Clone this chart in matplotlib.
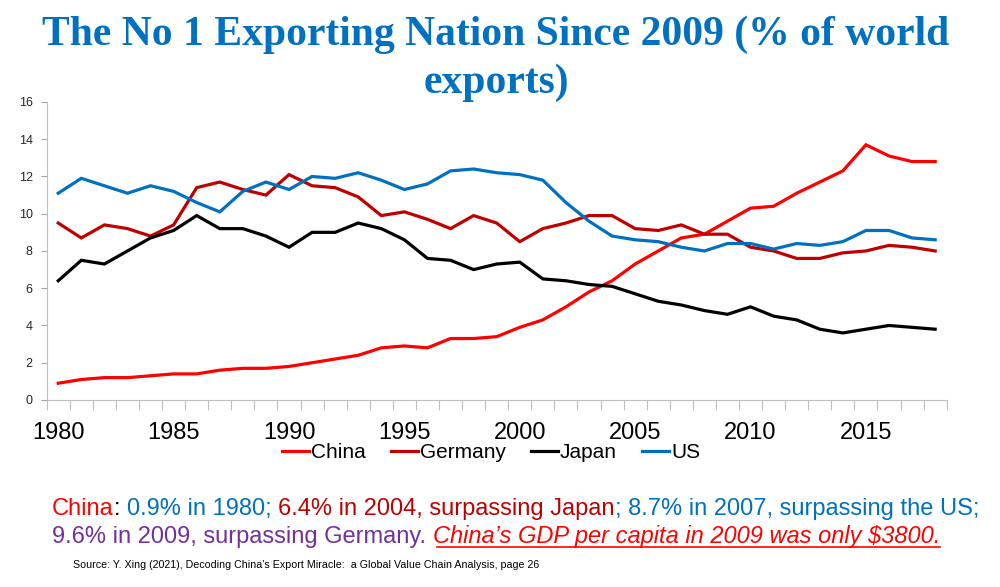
import matplotlib
matplotlib.use('Agg')
import matplotlib.pyplot as plt
from matplotlib.lines import Line2D
import numpy as np

years = list(range(1980, 2019))

china = [0.9, 1.1, 1.2, 1.2, 1.3, 1.4, 1.4, 1.6, 1.7, 1.7,
         1.8, 2.0, 2.2, 2.4, 2.8, 2.9, 2.8, 3.3, 3.3, 3.4,
         3.9, 4.3, 5.0, 5.8, 6.4, 7.3, 8.0, 8.7, 8.9, 9.6,
         10.3, 10.4, 11.1, 11.7, 12.3, 13.7, 13.1, 12.8, 12.8]
germany = [9.5, 8.7, 9.4, 9.2, 8.8, 9.4, 11.4, 11.7, 11.3, 11.0,
           12.1, 11.5, 11.4, 10.9, 9.9, 10.1, 9.7, 9.2, 9.9, 9.5,
           8.5, 9.2, 9.5, 9.9, 9.9, 9.2, 9.1, 9.4, 8.9, 8.9,
           8.2, 8.0, 7.6, 7.6, 7.9, 8.0, 8.3, 8.2, 8.0]
japan = [6.4, 7.5, 7.3, 8.0, 8.7, 9.1, 9.9, 9.2, 9.2, 8.8,
         8.2, 9.0, 9.0, 9.5, 9.2, 8.6, 7.6, 7.5, 7.0, 7.3,
         7.4, 6.5, 6.4, 6.2, 6.1, 5.7, 5.3, 5.1, 4.8, 4.6,
         5.0, 4.5, 4.3, 3.8, 3.6, 3.8, 4.0, 3.9, 3.8]
us = [11.1, 11.9, 11.5, 11.1, 11.5, 11.2, 10.6, 10.1, 11.2, 11.7,
      11.3, 12.0, 11.9, 12.2, 11.8, 11.3, 11.6, 12.3, 12.4, 12.2,
      12.1, 11.8, 10.6, 9.6, 8.8, 8.6, 8.5, 8.2, 8.0, 8.4,
      8.4, 8.1, 8.4, 8.3, 8.5, 9.1, 9.1, 8.7, 8.6]

series_names = ['China', 'Germany', 'Japan', 'US']
series_colors = ['#FF0000', '#C00000', '#000000', '#0070C0']

plt.rcParams['font.family'] = ['Liberation Sans', 'DejaVu Sans']

fig = plt.figure(figsize=(10, 5.87), dpi=100)
ax = fig.add_axes([0.0467, 0.3186, 0.9, 0.5077])

x = np.arange(len(years))
for vals, name, col in zip([china, germany, japan, us], series_names, series_colors):
    ax.plot(x, vals, color=col, linewidth=2.3, label=name, solid_joinstyle='miter')

ax.set_xlim(-0.5, len(years) - 0.5)
ax.set_ylim(0, 16)
ax.set_yticks(range(0, 17, 2))
ax.tick_params(axis='y', labelsize=9, length=4, color='#A6A6A6', pad=6, labelcolor='#262626')

# category boundary ticks + year labels every 5
ax.set_xticks(np.arange(-0.5, len(years), 1.0))
ax.set_xticklabels([])
ax.tick_params(axis='x', which='major', length=7, color='#BFBFBF')
lab_pos = [i for i, y in enumerate(years) if y % 5 == 0]
ax.set_xticks(lab_pos, minor=True)
ax.set_xticklabels([str(years[i]) for i in lab_pos], minor=True)
ax.tick_params(axis='x', which='minor', length=0, labelsize=17, pad=16)

for s in ['top', 'right']:
    ax.spines[s].set_visible(False)
ax.spines['left'].set_color('#BFBFBF')
ax.spines['bottom'].set_color('#BFBFBF')

fig.legend(loc='center', bbox_to_anchor=(0.491, 0.2283), ncol=4, frameon=False,
           fontsize=15, handlelength=1.3, handletextpad=0.1, columnspacing=1.2)

# title
title_kw = dict(ha='center', va='baseline', color='#0070C0', fontsize=30,
                fontweight='bold', family='Liberation Serif')
fig.text(0.496, 0.9233, 'The No 1 Exporting Nation Since 2009 (% of world', **title_kw)
fig.text(0.496, 0.8416, 'exports)', **title_kw)

# multicoloured notes
fig.canvas.draw()
renderer = fig.canvas.get_renderer()


def colored_line(x0, y0, parts, size):
    xpos = x0
    for txt, col, style in parts:
        t = fig.text(xpos, y0, txt, color=col, fontsize=size, style=style,
                     va='baseline', ha='left')
        bb = t.get_window_extent(renderer)
        if style == 'italic':
            fig.add_artist(Line2D([bb.x0 / fig.bbox.width + 0.004, bb.x1 / fig.bbox.width],
                                  [y0 - 0.007, y0 - 0.007], color=col, linewidth=1.2))
        xpos = bb.x1 / fig.bbox.width


colored_line(0.052, 0.1227, [
    ('China', '#FF0000', 'normal'),
    (': ', '#000000', 'normal'),
    ('0.9% in 1980; ', '#0070C0', 'normal'),
    ('6.4% in 2004, surpassing Japan', '#C00000', 'normal'),
    ('; 8.7% in 2007, surpassing the US;', '#0070C0', 'normal'),
], 17)
colored_line(0.052, 0.075, [
    ('9.6% in 2009, surpassing Germany. ', '#7030A0', 'normal'),
    ('China\u2019s GDP per capita in 2009 was only $3800.', '#FF0000', 'italic'),
], 17)

fig.text(0.073, 0.0324, 'Source: Y. Xing (2021), Decoding China\u2019s Export Miracle:  '
         'a Global Value Chain Analysis, page 26', fontsize=7.7, color='#000000',
         va='baseline', ha='left')

fig.savefig('out.png', dpi=100)
